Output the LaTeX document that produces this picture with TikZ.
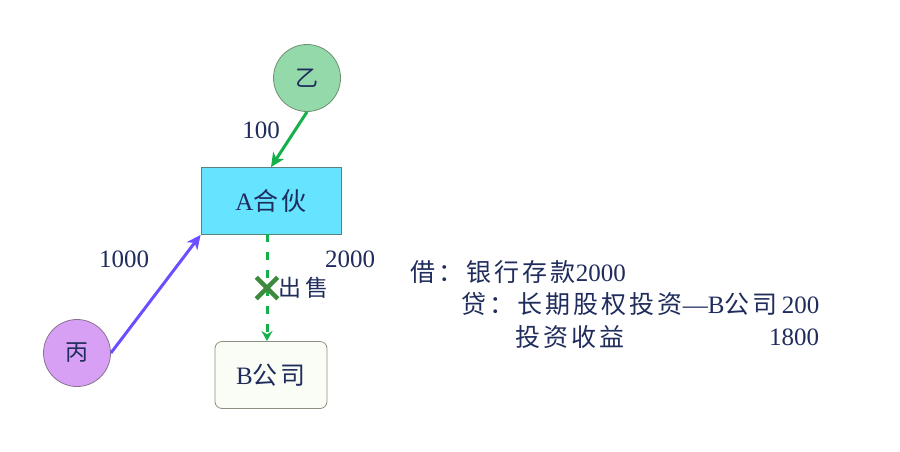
\documentclass[tikz,border=0pt]{standalone}
\usepackage{fontspec}
\setmainfont{Liberation Serif}
\newfontfamily\cjk[LetterSpace=12]{Noto Sans CJK SC}
\usetikzlibrary{arrows.meta,shapes.misc}
\definecolor{ink}{RGB}{31,44,92}
\definecolor{yifill}{RGB}{147,217,169}
\definecolor{yiline}{RGB}{110,143,112}
\definecolor{afill}{RGB}{102,227,255}
\definecolor{aline}{RGB}{90,128,128}
\definecolor{bingfill}{RGB}{216,160,245}
\definecolor{bingline}{RGB}{138,112,144}
\definecolor{bfill}{RGB}{250,253,245}
\definecolor{bline}{RGB}{138,144,128}
\definecolor{arrgreen}{RGB}{21,176,74}
\definecolor{arrpurple}{RGB}{107,78,255}
\definecolor{xgreen}{RGB}{60,138,60}

\begin{document}
\begin{tikzpicture}[x=1pt,y=1pt,yscale=-1,xscale=1,
  lbl/.style={font=\fontsize{25}{28}\selectfont,text=ink,inner sep=0.75pt},
  party/.style={circle,minimum size=67pt,inner sep=0pt,line width=0.8pt,font=\fontsize{23}{26}\selectfont\cjk,text=ink},
  flow/.style={line width=3pt,-{Stealth[length=14pt,width=13pt,inset=4pt]}}]
\path[use as bounding box] (0,0) rectangle (900,451);

%Shape: Circle
\node[party,draw=yiline,fill=yifill] (yi) at (307,78) {乙};
%Shape: Circle
\node[party,draw=bingline,fill=bingfill] (bing) at (77,353) {丙};
%Shape: Rectangle
\node[lbl,draw=aline,fill=afill,line width=0.8pt,minimum width=140pt,minimum height=67pt] (a) at (271,201) {A{\cjk 合伙}};
%Shape: Rectangle
\node[lbl,draw=bline,fill=bfill,line width=0.8pt,rounded corners=7pt,minimum width=112pt,minimum height=67pt] (b) at (271,375) {B{\cjk 公司}};

\coordinate (sale0) at (267,234);
\coordinate (sale1) at (267,341);

%Straight Lines
\draw[flow,draw=arrgreen] (yi.south) -- (a.north);
\draw[flow,draw=arrpurple] (bing.east) -- (a.south west);
\draw[draw=arrgreen,line width=3pt,dash pattern=on 8pt off 10pt,-{Stealth[length=10pt,width=11pt]}] (sale0) -- (sale1);

%Shape: Cross
\node[cross out,draw=xgreen,line width=4.5pt,minimum size=17pt,inner sep=0pt] (no) at (267,288) {};

% Text Node
\node[lbl] (p100) at (261,130) {100};
% Text Node
\node[lbl] (p1000) at (124,259) {1000};
% Text Node
\node[lbl] (p2000) at (350,259) {2000};
% Text Node
\node[lbl,anchor=west,font=\fontsize{23}{26}\selectfont\cjk] (sell) at (no.east) {出\,售};

% Text Node
\node[lbl,anchor=west] (debit) at (410,272) {{\cjk 借：银行存款}2000};
% Text Node
\node[lbl,anchor=west] (credit) at (461,304) {{\cjk 贷：长期股权投资}—B{\cjk 公司}\,200};
% Text Node
\node[lbl,anchor=west] (income) at (515,337) {\cjk 投资收益};
% Text Node
\node[lbl,anchor=east] (gain) at (820,337) {1800};

\end{tikzpicture}
\end{document}
